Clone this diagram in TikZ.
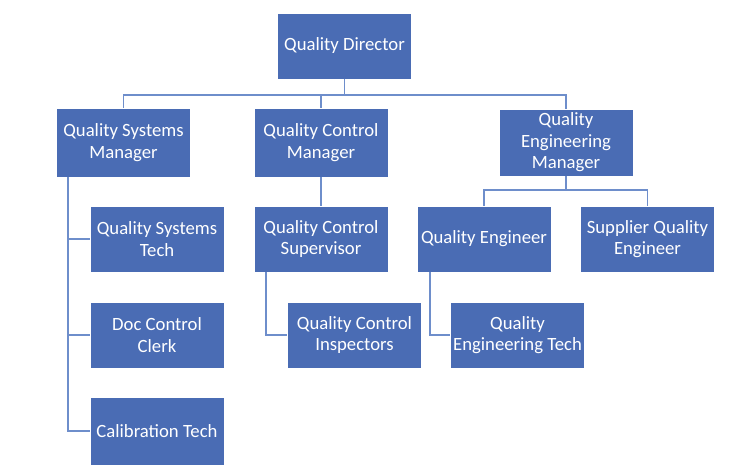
\documentclass[tikz,border=0pt]{standalone}
\usepackage{fontspec}
\setmainfont{Carlito}
\definecolor{boxblue}{HTML}{4A6CB4}
\definecolor{linkblue}{HTML}{6E8ECB}
\begin{document}
\begin{tikzpicture}[x=1pt,y=-1pt,
  orgbox/.style={fill=boxblue,draw=white,line width=0.8pt,text=white,align=center,
    minimum width=134pt,minimum height=66pt,inner sep=1pt,font=\fontsize{18.7}{21.5}\selectfont},
  link/.style={draw=linkblue,line width=1.5pt}]
\useasboundingbox (0,0) rectangle (750,474);
\node[orgbox] (qd)  at (344.5,46) {Quality Director};
\node[orgbox,minimum height=69pt] (qsm) at (123.5,142.5) {Quality Systems\\Manager};
\node[orgbox,minimum height=69pt] (qcm) at (321,142.5) {Quality Control\\Manager};
\node[orgbox,minimum height=67pt] (qem) at (566,142.5) {Quality\\Engineering\\Manager};
\node[orgbox] (qst) at (157,239) {Quality Systems\\Tech};
\node[orgbox] (qcs) at (321,239) {Quality Control\\Supervisor};
\node[orgbox] (qe)  at (484,239) {Quality Engineer};
\node[orgbox] (sqe) at (647.5,239) {Supplier Quality\\Engineer};
\node[orgbox] (dcc) at (157,335) {Doc Control\\Clerk};
\node[orgbox] (qci) at (354.5,335) {Quality Control\\Inspectors};
\node[orgbox] (qet) at (517.5,335) {Quality\\Engineering Tech};
\node[orgbox,minimum height=68pt] (ct)  at (157,431) {Calibration Tech};
% top bus
\coordinate (bus) at (0,95);
\draw[link] (qd.south) -- (qd.south |- bus);
\draw[link] (qsm.north) -- (qsm.north |- bus) -- (qem.north |- bus) -- (qem.north);
\draw[link] (qcm.north) -- (qcm.north |- bus);
% quality systems branch
\coordinate (qsx) at (68,0);
\draw[link] (qsm.south -| qsx) -- (ct.west -| qsx) -- (ct.west);
\draw[link] (qst.west -| qsx) -- (qst.west);
\draw[link] (dcc.west -| qsx) -- (dcc.west);
% quality control branch
\draw[link] (qcm.south) -- (qcs.north);
\coordinate (qcx) at (266,0);
\draw[link] (qcs.south -| qcx) -- (qci.west -| qcx) -- (qci.west);
% quality engineering branch
\coordinate (ebus) at (0,190);
\draw[link] (qem.south) -- (qem.south |- ebus);
\draw[link] (qe.north) -- (qe.north |- ebus) -- (sqe.north |- ebus) -- (sqe.north);
\coordinate (qex) at (430,0);
\draw[link] (qe.south -| qex) -- (qet.west -| qex) -- (qet.west);
\end{tikzpicture}
\end{document}
